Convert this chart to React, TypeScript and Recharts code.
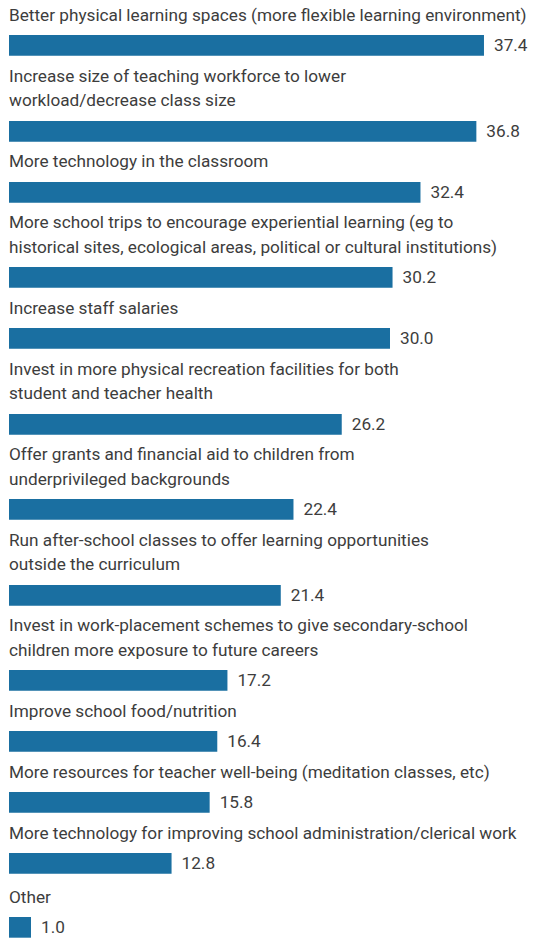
import React from "react";
import { BarChart, Bar, XAxis, YAxis, LabelList } from "recharts";

// label lines as they wrap in the original
const labels: string[][] = [
  ["Better physical learning spaces (more flexible learning environment)"],
  ["Increase size of teaching workforce to lower", "workload/decrease class size"],
  ["More technology in the classroom"],
  ["More school trips to encourage experiential learning (eg to", "historical sites, ecological areas, political or cultural institutions)"],
  ["Increase staff salaries"],
  ["Invest in more physical recreation facilities for both", "student and teacher health"],
  ["Offer grants and financial aid to children from", "underprivileged backgrounds"],
  ["Run after-school classes to offer learning opportunities", "outside the curriculum"],
  ["Invest in work-placement schemes to give secondary-school", "children more exposure to future careers"],
  ["Improve school food/nutrition"],
  ["More resources for teacher well-being (meditation classes, etc)"],
  ["More technology for improving school administration/clerical work"],
  ["Other"],
];

const values = [37.4, 36.8, 32.4, 30.2, 30.0, 26.2, 22.4, 21.4, 17.2, 16.4, 15.8, 12.8, 1.0];

const BLUE = "#1a6fa1";
const TEXT = "#3d3d3d";
const FONT = "Roboto, 'Open Sans', sans-serif";

function Row({ lines, value, last }: { lines: string[]; value: number; last: boolean }) {
  const data = [{ name: lines.join(" "), value }];
  return (
    <div style={{ paddingTop: last ? 3 : 0 }}>
      <div style={{ fontFamily: FONT, fontSize: 17.2, lineHeight: "24.5px", color: TEXT, paddingLeft: 1, whiteSpace: "nowrap" }}>
        {lines.map((l, i) => (
          <div key={i}>{l}</div>
        ))}
      </div>
      <div style={{ height: 7 }} />
      <BarChart
        width={525}
        height={23}
        data={data}
        layout="vertical"
        margin={{ top: 0, right: 16, bottom: 0, left: 1 }}
        barCategoryGap={0}
        style={{ overflow: "visible" }}
      >
        <XAxis type="number" domain={[0, 40]} hide />
        <YAxis type="category" dataKey="name" hide />
        <Bar dataKey="value" fill={BLUE} barSize={23} minPointSize={22} isAnimationActive={false}>
          <LabelList
            dataKey="value"
            position="right"
            offset={10}
            formatter={(v: number) => v.toFixed(1)}
            style={{ fill: TEXT, fontSize: 17.2, fontFamily: FONT }}
          />
        </Bar>
      </BarChart>
      {!last && <div style={{ height: 6.5 }} />}
    </div>
  );
}

export default function App() {
  return (
    <>
      <style>{`html,body{margin:0;overflow:hidden;background:#fff}`}</style>
      <div style={{ width: 525, marginLeft: 8, paddingTop: 2.5 }}>
        {labels.map((lines, i) => (
          <Row key={i} lines={lines} value={values[i]} last={i === labels.length - 1} />
        ))}
      </div>
    </>
  );
}
